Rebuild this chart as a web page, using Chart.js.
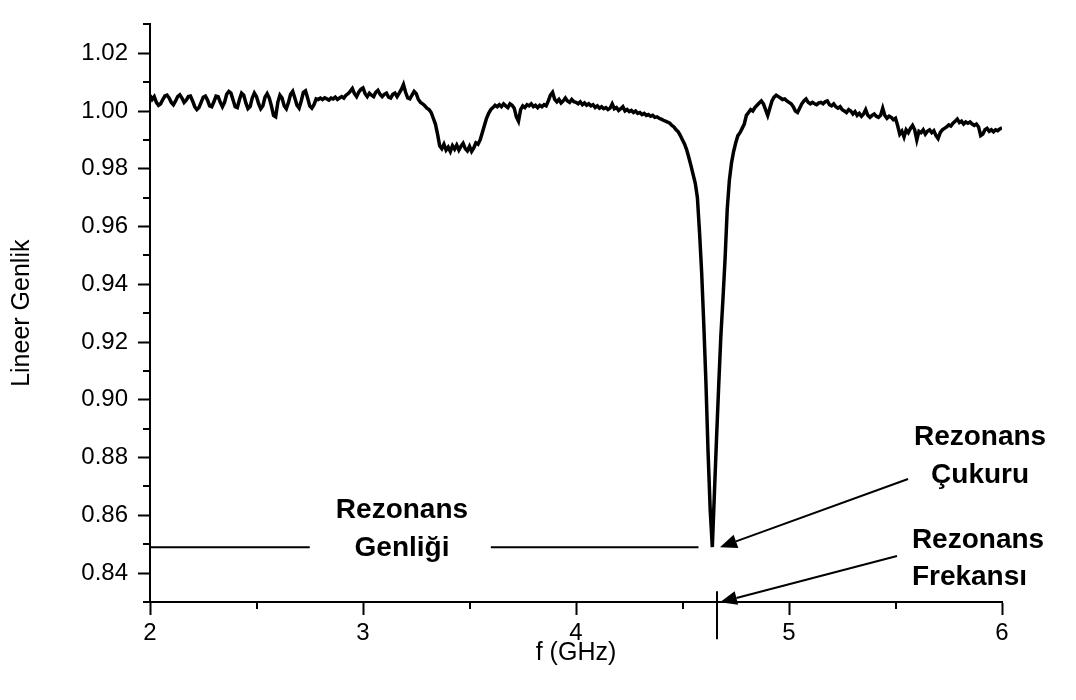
<!DOCTYPE html>
<html>
<head>
<meta charset="utf-8">
<script src="https://cdn.jsdelivr.net/npm/chart.js@4.4.1/dist/chart.umd.min.js"></script>
<style>
  html, body { margin: 0; padding: 0; background: #fff; }
</style>
</head>
<body>
<canvas id="chart" width="1076" height="700"></canvas>
<script>
// sweep: 2 - 6 GHz, 0.01 GHz step (401 points)
const fStart = 2.0;
const fStep = 0.01;

// linear amplitude, one row per 0.1 GHz
const amplitude = [
  1.0055, 1.0040, 1.0050, 1.0030, 1.0020, 1.0025, 1.0040, 1.0052, 1.0055, 1.0045, // 2.0
  1.0030, 1.0022, 1.0035, 1.0050, 1.0056, 1.0045, 1.0030, 1.0038, 1.0050, 1.0052, // 2.1
  1.0035, 1.0015, 1.0005, 1.0012, 1.0030, 1.0048, 1.0052, 1.0038, 1.0018, 1.0015, // 2.2
  1.0032, 1.0052, 1.0050, 1.0030, 1.0015, 1.0030, 1.0058, 1.0068, 1.0062, 1.0038, // 2.3
  1.0015, 1.0012, 1.0040, 1.0062, 1.0055, 1.0028, 1.0008, 1.0015, 1.0045, 1.0062, // 2.4
  1.0050, 1.0025, 1.0008, 1.0018, 1.0048, 1.0060, 1.0045, 1.0018, 0.9985, 0.9980, // 2.5
  1.0030, 1.0055, 1.0045, 1.0018, 1.0008, 1.0030, 1.0058, 1.0068, 1.0045, 1.0020, // 2.6
  1.0010, 1.0035, 1.0065, 1.0070, 1.0045, 1.0018, 1.0010, 1.0022, 1.0042, 1.0040, // 2.7
  1.0045, 1.0040, 1.0046, 1.0042, 1.0038, 1.0045, 1.0042, 1.0048, 1.0040, 1.0045, // 2.8
  1.0050, 1.0045, 1.0055, 1.0060, 1.0068, 1.0078, 1.0060, 1.0050, 1.0065, 1.0075, // 2.9
  1.0080, 1.0060, 1.0050, 1.0062, 1.0055, 1.0050, 1.0065, 1.0072, 1.0058, 1.0050, // 3.0
  1.0058, 1.0062, 1.0048, 1.0045, 1.0058, 1.0062, 1.0050, 1.0062, 1.0075, 1.0092, // 3.1
  1.0065, 1.0045, 1.0042, 1.0055, 1.0068, 1.0060, 1.0040, 1.0030, 1.0025, 1.0018, // 3.2
  1.0010, 1.0005, 0.9995, 0.9975, 0.9955, 0.9920, 0.9880, 0.9870, 0.9885, 0.9865, // 3.3
  0.9875, 0.9860, 0.9880, 0.9868, 0.9882, 0.9865, 0.9878, 0.9888, 0.9870, 0.9862, // 3.4
  0.9878, 0.9860, 0.9872, 0.9890, 0.9885, 0.9900, 0.9925, 0.9950, 0.9975, 0.9992, // 3.5
  1.0005, 1.0012, 1.0020, 1.0015, 1.0022, 1.0015, 1.0025, 1.0018, 1.0012, 1.0025, // 3.6
  1.0020, 1.0010, 0.9980, 0.9965, 1.0005, 1.0018, 1.0012, 1.0022, 1.0018, 1.0025, // 3.7
  1.0015, 1.0020, 1.0012, 1.0020, 1.0015, 1.0022, 1.0018, 1.0035, 1.0055, 1.0065, // 3.8
  1.0040, 1.0032, 1.0040, 1.0028, 1.0035, 1.0045, 1.0035, 1.0030, 1.0040, 1.0032, // 3.9
  1.0030, 1.0025, 1.0032, 1.0022, 1.0028, 1.0020, 1.0025, 1.0018, 1.0022, 1.0012, // 4.0
  1.0018, 1.0010, 1.0015, 1.0008, 1.0012, 1.0005, 1.0010, 1.0025, 1.0008, 1.0012, // 4.1
  1.0002, 1.0008, 1.0015, 1.0000, 1.0005, 0.9998, 1.0002, 0.9995, 1.0000, 0.9992, // 4.2
  0.9995, 0.9988, 0.9992, 0.9985, 0.9988, 0.9982, 0.9985, 0.9978, 0.9980, 0.9975, // 4.3
  0.9972, 0.9968, 0.9965, 0.9962, 0.9958, 0.9950, 0.9945, 0.9935, 0.9928, 0.9915, // 4.4
  0.9900, 0.9885, 0.9865, 0.9838, 0.9810, 0.9780, 0.9750, 0.9700, 0.9580, 0.9440, // 4.5
  0.9260, 0.9060, 0.8820, 0.8620, 0.8490, 0.8680, 0.8870, 0.9050, 0.9220, 0.9350, // 4.6
  0.9490, 0.9660, 0.9760, 0.9820, 0.9860, 0.9890, 0.9915, 0.9925, 0.9940, 0.9955, // 4.7
  0.9985, 0.9995, 1.0005, 1.0000, 1.0012, 1.0020, 1.0028, 1.0035, 1.0025, 1.0005, // 4.8
  0.9985, 1.0010, 1.0035, 1.0048, 1.0055, 1.0050, 1.0045, 1.0040, 1.0042, 1.0035, // 4.9
  1.0030, 1.0025, 1.0015, 1.0000, 0.9995, 1.0010, 1.0025, 1.0035, 1.0042, 1.0030, // 5.0
  1.0025, 1.0030, 1.0025, 1.0022, 1.0028, 1.0030, 1.0025, 1.0032, 1.0035, 1.0022, // 5.1
  1.0018, 1.0025, 1.0015, 1.0010, 1.0015, 1.0005, 1.0000, 0.9995, 1.0005, 1.0000, // 5.2
  0.9990, 0.9998, 0.9985, 0.9992, 0.9982, 0.9990, 1.0005, 0.9985, 0.9978, 0.9985, // 5.3
  0.9990, 0.9982, 0.9978, 0.9985, 1.0010, 0.9985, 0.9975, 0.9982, 0.9978, 0.9970, // 5.4
  0.9975, 0.9950, 0.9920, 0.9930, 0.9910, 0.9935, 0.9925, 0.9940, 0.9950, 0.9935, // 5.5
  0.9900, 0.9930, 0.9925, 0.9935, 0.9920, 0.9930, 0.9935, 0.9925, 0.9932, 0.9915, // 5.6
  0.9905, 0.9925, 0.9935, 0.9940, 0.9945, 0.9952, 0.9948, 0.9958, 0.9965, 0.9972, // 5.7
  0.9960, 0.9965, 0.9955, 0.9962, 0.9958, 0.9962, 0.9955, 0.9950, 0.9955, 0.9945, // 5.8
  0.9915, 0.9920, 0.9935, 0.9940, 0.9930, 0.9935, 0.9928, 0.9935, 0.9932, 0.9938, // 5.9
  0.9942                                                                          // 6.0
];

// axis ticks
const xTicks = [2, 3, 4, 5, 6];
const xMinorTicks = [2.5, 3.5, 4.5, 5.5];
const yTicks = [0.84, 0.86, 0.88, 0.90, 0.92, 0.94, 0.96, 0.98, 1.00, 1.02];
const yMinorTicks = [0.83, 0.85, 0.87, 0.89, 0.91, 0.93, 0.95, 0.97, 0.99, 1.01, 1.03];

// annotation geometry (data units)
const resonanceDepth = 0.849;
const depthSegments = [[2.0, 2.75], [3.6, 4.575]];
const resonanceFreq = 4.662;
const freqMarker = [0.8337, 0.8171];
const arrows = [
  { from: [5.559, 0.8726], to: [4.676, 0.8490] },
  { from: [5.507, 0.8459], to: [4.676, 0.8299] }
];
const labels = [
  { text: 'Rezonans', f: 5.897, v: 0.8871, align: 'center' },
  { text: 'Çukuru',   f: 5.897, v: 0.8739, align: 'center' },
  { text: 'Rezonans', f: 5.577, v: 0.8513, align: 'left' },
  { text: 'Frekansı', f: 5.577, v: 0.8384, align: 'left' },
  { text: 'Rezonans', f: 3.183, v: 0.8618, align: 'center' },
  { text: 'Genliği',  f: 3.183, v: 0.8486, align: 'center' }
];

const FONT = "'Liberation Sans', Arial, Helvetica, sans-serif";
Chart.defaults.font.family = FONT;
Chart.defaults.color = '#000';

const points = amplitude.map((v, i) => ({ x: +(fStart + i * fStep).toFixed(2), y: v }));

// minor ticks, arrows and text labels
const annotate = {
  id: 'annotate',
  afterDraw(chart) {
    const { ctx, scales: { x, y } } = chart;
    const left = chart.chartArea.left, bottom = chart.chartArea.bottom;
    ctx.save();
    ctx.strokeStyle = '#000';
    ctx.fillStyle = '#000';
    ctx.lineWidth = 2;

    ctx.beginPath();
    yMinorTicks.forEach(v => {
      const py = Math.round(y.getPixelForValue(v));
      ctx.moveTo(left - 7, py); ctx.lineTo(left, py);
    });
    xMinorTicks.forEach(f => {
      const px = Math.round(x.getPixelForValue(f));
      ctx.moveTo(px, bottom); ctx.lineTo(px, bottom + 7);
    });
    ctx.stroke();

    // resonance depth line
    const py = y.getPixelForValue(resonanceDepth);
    ctx.beginPath();
    depthSegments.forEach(([a, b]) => {
      ctx.moveTo(x.getPixelForValue(a), py);
      ctx.lineTo(x.getPixelForValue(b), py);
    });
    // resonance frequency marker
    const fx = x.getPixelForValue(resonanceFreq);
    ctx.moveTo(fx, y.getPixelForValue(freqMarker[0]));
    ctx.lineTo(fx, y.getPixelForValue(freqMarker[1]));
    ctx.stroke();

    arrows.forEach(a => {
      const x0 = x.getPixelForValue(a.from[0]), y0 = y.getPixelForValue(a.from[1]);
      const x1 = x.getPixelForValue(a.to[0]),   y1 = y.getPixelForValue(a.to[1]);
      const ang = Math.atan2(y1 - y0, x1 - x0);
      const len = 17, half = 7;
      const bx = x1 - len * Math.cos(ang), by = y1 - len * Math.sin(ang);
      ctx.beginPath();
      ctx.moveTo(x0, y0); ctx.lineTo(bx, by);
      ctx.stroke();
      ctx.beginPath();
      ctx.moveTo(x1, y1);
      ctx.lineTo(bx + half * Math.sin(ang), by - half * Math.cos(ang));
      ctx.lineTo(bx - half * Math.sin(ang), by + half * Math.cos(ang));
      ctx.closePath();
      ctx.fill();
    });

    ctx.font = 'bold 28px ' + FONT;
    ctx.textBaseline = 'middle';
    labels.forEach(l => {
      ctx.textAlign = l.align;
      ctx.fillText(l.text, x.getPixelForValue(l.f), y.getPixelForValue(l.v));
    });
    ctx.restore();
  }
};

new Chart(document.getElementById('chart'), {
  type: 'line',
  data: {
    datasets: [{
      data: points,
      borderColor: '#000',
      borderWidth: 3.5,
      pointRadius: 0,
      tension: 0,
      fill: false
    }]
  },
  options: {
    responsive: false,
    animation: false,
    layout: { padding: { top: 11, right: 74, left: 0, bottom: 0 } },
    plugins: { legend: { display: false }, tooltip: { enabled: false } },
    scales: {
      x: {
        type: 'linear',
        min: 2, max: 6,
        afterBuildTicks: s => { s.ticks = xTicks.map(v => ({ value: v })); },
        afterFit: s => { s.height = 98; },
        border: { display: true, color: '#000', width: 2 },
        grid: { drawOnChartArea: false, drawTicks: true, tickLength: 13, tickWidth: 2, tickColor: '#000' },
        ticks: { font: { size: 24 }, padding: 4, maxRotation: 0, callback: v => String(v) },
        title: { display: true, text: 'f (GHz)', font: { size: 25 }, padding: { top: 0, bottom: 32 } }
      },
      y: {
        type: 'linear',
        min: 0.83, max: 1.03,
        afterBuildTicks: s => { s.ticks = yTicks.map(v => ({ value: v })); },
        afterFit: s => { s.width = 150; },
        border: { display: true, color: '#000', width: 2 },
        grid: { drawOnChartArea: false, drawTicks: true, tickLength: 12, tickWidth: 2, tickColor: '#000' },
        ticks: { font: { size: 24 }, padding: 10, callback: v => v.toFixed(2) },
        title: { display: true, text: 'Lineer Genlik', font: { size: 25 }, padding: { top: 7, bottom: 0 } }
      }
    }
  },
  plugins: [annotate]
});
</script>
</body>
</html>
